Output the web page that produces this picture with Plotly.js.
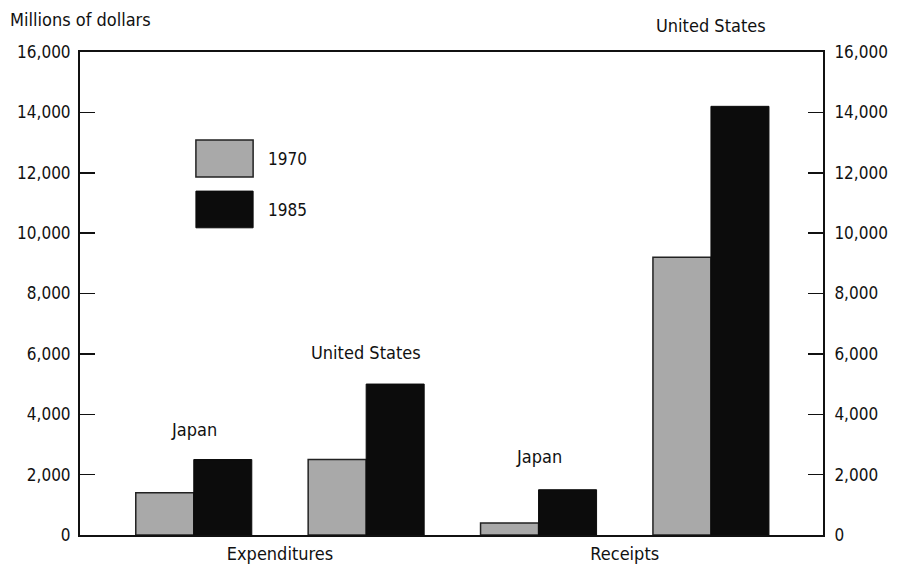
<!DOCTYPE html>
<html><head><meta charset="utf-8">
<script src="https://cdn.plot.ly/plotly-3.0.1.min.js"></script>
<style>body{margin:0;background:#fff}#c{width:898px;height:570px}</style>
</head><body><div id="c"></div>
<script>
const groups = ['Expenditures', 'Receipts'];
const countries = ['Japan', 'United States', 'Japan', 'United States'];
const values1970 = [1400, 2500, 400, 9200];
const values1985 = [2500, 5000, 1500, 14200];
const yTicks = [0, 2000, 4000, 6000, 8000, 10000, 12000, 14000, 16000];
const labelY = [3500, 6050, 2600, 17300];

const F = '"DejaVu Sans Condensed", "Liberation Sans Narrow", "Liberation Sans", Arial, sans-serif';
const pos = countries.map((_, i) => i);
const YMAX = 16000;

const traces = [
  {type:'bar', x:pos, y:values1970, name:'1970', marker:{color:'#a9a9a9', line:{color:'#222', width:1.5}}},
  {type:'bar', x:pos, y:values1985, name:'1985', marker:{color:'#0c0c0c', line:{color:'#0c0c0c', width:1}}},
  {type:'scatter', x:[0], y:[0], yaxis:'y2', mode:'markers', marker:{opacity:0}, hoverinfo:'skip', showlegend:false}
];

const annotations = countries.map((c, i) => {
  const inRange = labelY[i] <= YMAX;
  return {
    x: i, xref:'x',
    y: inRange ? labelY[i] : labelY[i] / YMAX, yref: inRange ? 'y' : 'paper',
    text:c, showarrow:false, font:{family:F, size:18, color:'#111'}
  };
});
annotations.push({xref:'paper', yref:'paper', x:-0.097, y:1.0, yshift:20, xanchor:'left', yanchor:'bottom',
  text:'Millions of dollars', showarrow:false, font:{family:F, size:18, color:'#111'}});
// legend
annotations.push({xref:'paper', yref:'paper', x:0.25, y:0.778, xanchor:'left', yanchor:'middle', text:'1970', showarrow:false, font:{family:F, size:17, color:'#111'}});
annotations.push({xref:'paper', yref:'paper', x:0.25, y:0.673, xanchor:'left', yanchor:'middle', text:'1985', showarrow:false, font:{family:F, size:17, color:'#111'}});

const shapes = [
  {type:'rect', xref:'paper', yref:'paper', x0:0.156, x1:0.233, y0:0.741, y1:0.818, fillcolor:'#a9a9a9', line:{color:'#222', width:1.5}},
  {type:'rect', xref:'paper', yref:'paper', x0:0.156, x1:0.233, y0:0.636, y1:0.712, fillcolor:'#0c0c0c', line:{color:'#0c0c0c', width:1}}
];

const tickText = yTicks.map(v => v.toLocaleString('en-US'));

const layout = {
  width:898, height:570,
  margin:{l:80, r:75, t:52, b:35},
  paper_bgcolor:'#fff', plot_bgcolor:'#fff',
  barmode:'group', bargap:0.327, bargroupgap:0,
  showlegend:false,
  font:{family:F, size:17, color:'#111'},
  xaxis:{range:[-0.66, 3.65], tickvals:[0.5, 2.5], ticktext:groups, ticks:'', showgrid:false, zeroline:false,
         showline:true, mirror:true, linecolor:'#111', linewidth:2, tickfont:{family:F, size:18, color:'#111'}, ticklabelstandoff:1},
  yaxis:{range:[0,YMAX], tickvals:yTicks, ticktext:tickText, ticks:'inside', ticklen:15, tickwidth:1.5, tickcolor:'#111',
         showgrid:false, zeroline:false, showline:true, linecolor:'#111', linewidth:2, tickfont:{family:F, size:17, color:'#111'}, ticklabelstandoff:4},
  yaxis2:{range:[0,YMAX], overlaying:'y', side:'right', tickvals:yTicks, ticktext:tickText, ticks:'inside', ticklen:15, tickwidth:1.5, tickcolor:'#111',
         showgrid:false, zeroline:false, showline:true, linecolor:'#111', linewidth:2, tickfont:{family:F, size:17, color:'#111'}, ticklabelstandoff:6},
  annotations, shapes
};
Plotly.newPlot('c', traces, layout, {displayModeBar:false, staticPlot:true});
</script></body></html>
